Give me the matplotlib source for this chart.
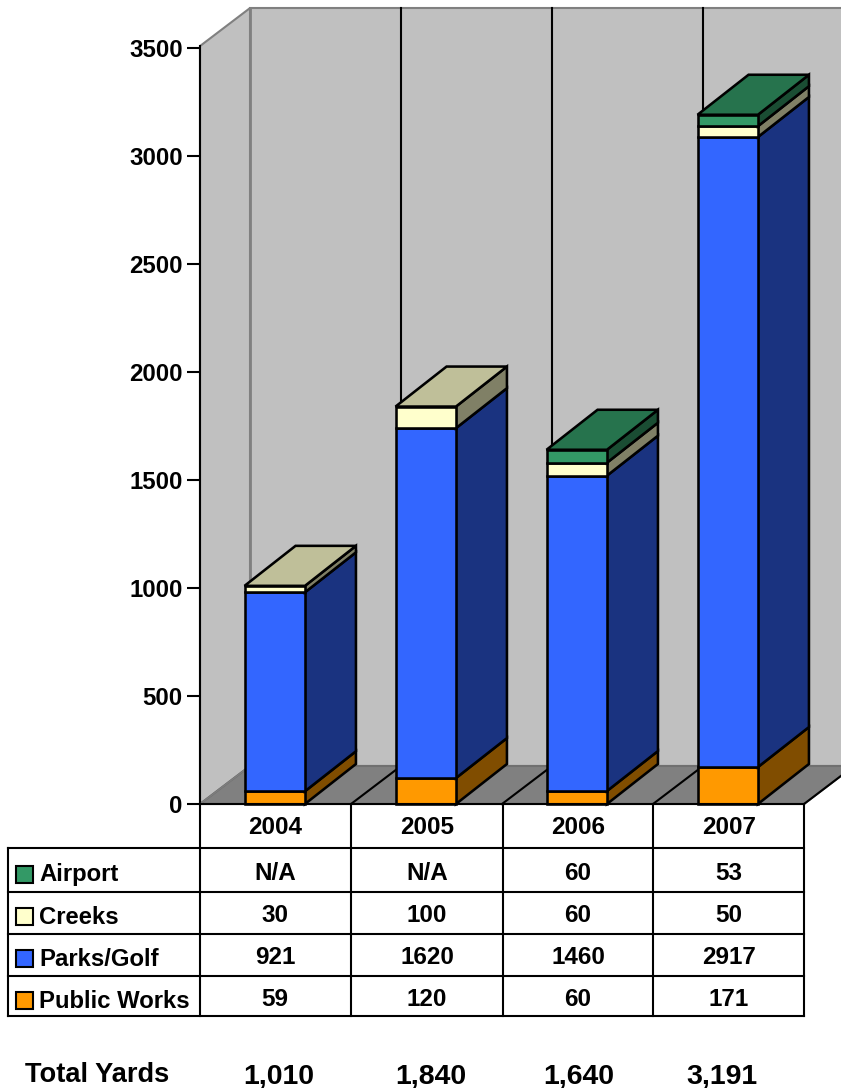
import matplotlib
matplotlib.use('Agg')
import matplotlib.pyplot as plt
from matplotlib.patches import Polygon, Rectangle

plt.rcParams['font.family'] = ['Liberation Sans', 'DejaVu Sans']
plt.rcParams['font.weight'] = 'bold'

# data, bottom of the stack first
years = ['2004', '2005', '2006', '2007']
series = ['Public Works', 'Parks/Golf', 'Creeks', 'Airport']
public_works = [59, 120, 60, 171]
parks_golf = [921, 1620, 1460, 2917]
creeks = [30, 100, 60, 50]
airport = [None, None, 60, 53]
totals = ['1,010', '1,840', '1,640', '3,191']
yticks = [0, 500, 1000, 1500, 2000, 2500, 3000, 3500]

colors = ['#FF9900', '#3366FF', '#FFFFCC', '#339966']
values = [public_works, parks_golf, creeks, airport]

W, H = 841, 1088
LW = 1.5
BAR_LW = 1.85


def shade(c, f):
    rgb = matplotlib.colors.to_rgb(c)
    return tuple(v * f for v in rgb)


fig = plt.figure(figsize=(W / 100, H / 100), dpi=100)

# main axes covers the front plane of the 3d plot: x 200-804, y 48-804 px
ax = fig.add_axes([200 / W, 1 - 804 / H, 604 / W, 756 / H])
ax.set_xlim(0, 4)
ax.set_ylim(0, 3500)
ax.patch.set_visible(False)
for s in ['top', 'right', 'bottom', 'left']:
    ax.spines[s].set_visible(False)
ax.set_xticks([])
ax.set_yticks(yticks)
ax.tick_params(axis='y', length=9.4, width=LW, pad=3, labelsize=17.3)

# depth of the fake 3d in data units: wall 50 px across, 38 px up
dx = 50 / 151
dy = 38 * 3500 / 756
# bars stick out a touch more
bar_dx = 51 / 151
bar_dy = 40 * 3500 / 756
ymax = 3509
xmax = 4 + 60 / 151


def poly(points, fc, ec='black', z=1, lw=LW):
    p = Polygon(points, closed=True, facecolor=fc, edgecolor=ec, linewidth=lw,
                joinstyle='miter', clip_on=False, zorder=z)
    ax.add_patch(p)


# back wall, side wall, floor
poly([(dx, dy), (xmax, dy), (xmax, ymax + dy), (dx, ymax + dy)], '#C0C0C0', '#808080', 1)
poly([(0, 0), (dx, dy), (dx, ymax + dy), (0, ymax)], '#C0C0C0', '#808080', 1)
poly([(0, 0), (4, 0), (4 + dx, dy), (xmax, dy), (dx, dy)], '#808080', '#707070', 1.5)
ax.plot([0, 0], [0, ymax], color='black', lw=LW, clip_on=False, zorder=2)

# vertical grid on the wall, running down over the floor
for i in range(4):
    col = '#808080' if i == 0 else 'black'
    wid = 2.0 if i == 0 else LW
    ax.plot([i + dx, i + dx], [dy, ymax + dy], color=col, lw=wid, clip_on=False, zorder=2)
    ax.plot([i, i + dx], [0, dy], color=col, lw=LW if i else 0.8, clip_on=False, zorder=2)
ax.plot([4, 4 + dx], [0, dy], color='black', lw=LW, clip_on=False, zorder=2)

# stacked bars
bar_left = 0.295
bar_w = 0.4
for i in range(len(years)):
    base = 0
    x0 = i + bar_left
    x1 = x0 + bar_w
    z = 3 + i
    top_color = None
    for vals, c in zip(values, colors):
        v = vals[i]
        if v is None:
            continue
        poly([(x1, base), (x1 + bar_dx, base + bar_dy), (x1 + bar_dx, base + v + bar_dy), (x1, base + v)],
             shade(c, 0.5), z=z, lw=BAR_LW)
        poly([(x0, base), (x1, base), (x1, base + v), (x0, base + v)], c, z=z, lw=BAR_LW)
        base += v
        top_color = c
    poly([(x0, base), (x1, base), (x1 + bar_dx, base + bar_dy), (x0 + bar_dx, base + bar_dy)],
         shade(top_color, 0.75), z=z, lw=BAR_LW)

# table below the plot, in pixel coordinates
tb = fig.add_axes([0, 0, 1, 1])
tb.set_xlim(0, W)
tb.set_ylim(H, 0)
tb.axis('off')
tb.patch.set_visible(False)

col_x = [200, 351, 503, 653, 804]
col_mid = [275, 427, 578, 729]
row_y = [848, 892, 934, 976, 1016]
for y in [804] + row_y:
    tb.plot([200 if y == 804 else 8, 804], [y, y], color='black', lw=LW, solid_capstyle='projecting')
for x in col_x:
    tb.plot([x, x], [804, 1016], color='black', lw=LW, solid_capstyle='projecting')
tb.plot([8, 8], [848, 1016], color='black', lw=LW, solid_capstyle='projecting')

for x, yr in zip(col_mid, years):
    tb.text(x, 827, yr, ha='center', va='center', fontsize=17.5)

# rows go top to bottom, airport first
row_mid = [872, 914, 956, 998]
for k in range(4):
    name = series[3 - k]
    vals = values[3 - k]
    y = row_mid[k]
    tb.add_patch(Rectangle((16, y - 6), 17, 17, facecolor=colors[3 - k],
                           edgecolor='black', linewidth=LW))
    tb.text(39, y + 3, name, ha='left', va='center', fontsize=17.2)
    for x, v in zip(col_mid, vals):
        tb.text(x, y + 2, 'N/A' if v is None else str(v), ha='center', va='center', fontsize=17.5)

tb.text(97, 1075, 'Total Yards', ha='center', va='center', fontsize=19.6)
for x, t in zip([279, 431, 579, 722], totals):
    tb.text(x, 1083, t, ha='center', va='baseline', fontsize=20.5)

fig.savefig('out.png', dpi=100)
